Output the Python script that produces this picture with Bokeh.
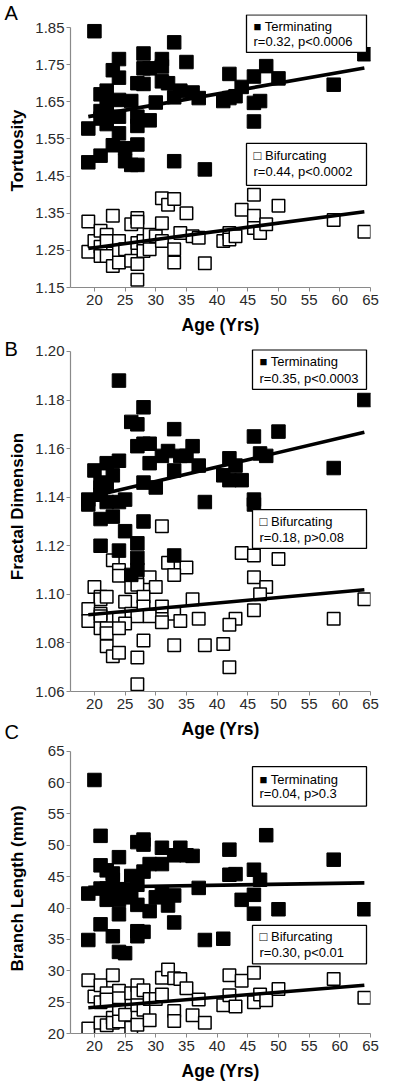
from bokeh.plotting import figure
from bokeh.layouts import column
from bokeh.models import Range1d, FixedTicker, PrintfTickFormatter, BoxAnnotation, Label
from bokeh.embed import file_html
from bokeh.resources import INLINE
import math

FONT = "Liberation Sans"

# ---------------- data ----------------
fit_age = [19, 64]

# Panel A: Tortuosity
A_term_age = [20, 19, 19, 21, 21, 22, 21, 21, 22, 22, 22, 23, 24, 24, 24, 24, 24, 23, 25, 25,
              26, 26, 27, 27, 27, 27, 27, 28, 28, 28, 29, 29, 30, 31, 31, 31, 32, 33, 33, 33,
              34, 35, 36, 37, 38, 41, 42, 42, 43, 44, 46, 46, 46, 47, 48, 50, 59, 64]
A_term_val = [1.84, 1.578, 1.487, 1.505, 1.67, 1.68, 1.625, 1.605, 1.645, 1.618, 1.59, 1.735,
              1.765, 1.715, 1.655, 1.61, 1.565, 1.533, 1.525, 1.49, 1.652, 1.48, 1.48, 1.61,
              1.585, 1.70, 1.535, 1.78, 1.74, 1.698, 1.74, 1.60, 1.648, 1.765, 1.745, 1.705,
              1.70, 1.81, 1.662, 1.49, 1.68, 1.757, 1.675, 1.66, 1.468, 1.652, 1.725, 1.66,
              1.665, 1.69, 1.718, 1.647, 1.597, 1.652, 1.746, 1.713, 1.696, 1.778]
A_bif_age = [19, 19, 20, 21, 21, 21, 22, 22, 22, 23, 23, 24, 24, 24, 25, 26, 26, 27, 27, 27,
             27, 27, 28, 28, 29, 29, 30, 31, 31, 31, 32, 33, 33, 33, 34, 35, 36, 37, 38, 41,
             42, 42, 43, 44, 46, 46, 46, 47, 48, 50, 59, 64]
A_bif_val = [1.328, 1.246, 1.275, 1.303, 1.26, 1.235, 1.292, 1.275, 1.235, 1.343, 1.208, 1.275,
             1.248, 1.217, 1.253, 1.32, 1.222, 1.337, 1.327, 1.27, 1.213, 1.171, 1.275, 1.248,
             1.292, 1.253, 1.288, 1.39, 1.323, 1.275, 1.373, 1.388, 1.253, 1.217, 1.297, 1.35,
             1.288, 1.284, 1.215, 1.275, 1.297, 1.279, 1.288, 1.359, 1.40, 1.343, 1.31, 1.297,
             1.32, 1.37, 1.332, 1.30]
A_term_fit = [1.61, 1.741]
A_bif_fit = [1.255, 1.354]

# Panel B: Fractal Dimension
B_term_age = [24, 64, 28, 26, 27, 33, 50, 46, 27, 28, 29, 36, 32, 31, 34, 35, 47, 48, 42, 20,
              22, 24, 29, 33, 37, 43, 59, 23, 41, 42, 44, 28, 21, 21, 22, 30, 21, 22, 19, 19,
              24, 25, 38, 46, 46, 21, 23, 28, 25, 21, 27, 24, 27, 33, 27, 26]
B_term_val = [1.188, 1.180, 1.177, 1.171, 1.170, 1.168, 1.167, 1.165, 1.161, 1.162, 1.162, 1.161,
              1.159, 1.157, 1.157, 1.157, 1.158, 1.157, 1.156, 1.151, 1.154, 1.155, 1.154, 1.151,
              1.153, 1.153, 1.152, 1.149, 1.149, 1.147, 1.147, 1.146, 1.146, 1.144, 1.145, 1.144,
              1.141, 1.138, 1.139, 1.137, 1.138, 1.139, 1.138, 1.139, 1.137, 1.131, 1.132, 1.130,
              1.126, 1.120, 1.121, 1.118, 1.115, 1.116, 1.110, 1.108]
B_bif_age = [31, 44, 46, 50, 23, 32, 35, 24, 24, 33, 46, 29, 20, 26, 27, 30, 48, 21, 21, 22,
             28, 36, 47, 64, 25, 19, 19, 21, 21, 26, 28, 31, 27, 29, 33, 46, 24, 25, 21, 22,
             22, 24, 31, 34, 37, 43, 42, 59, 28, 22, 23, 24, 33, 38, 41, 27, 42, 27]
B_bif_val = [1.128, 1.117, 1.116, 1.1145, 1.114, 1.113, 1.111, 1.110, 1.1077, 1.108, 1.107, 1.107,
             1.103, 1.103, 1.104, 1.103, 1.103, 1.099, 1.098, 1.099, 1.099, 1.098, 1.100, 1.098,
             1.097, 1.094, 1.089, 1.092, 1.091, 1.092, 1.095, 1.095, 1.091, 1.091, 1.092, 1.0935,
             1.090, 1.088, 1.086, 1.086, 1.084, 1.086, 1.0885, 1.089, 1.090, 1.090, 1.0875, 1.090,
             1.081, 1.0786, 1.0745, 1.076, 1.079, 1.079, 1.0796, 1.074, 1.070, 1.063]
B_term_fit = [1.140, 1.1667]
B_bif_fit = [1.0916, 1.1019]

# Panel C: Branch Length (mm)
C_term_age = [20, 21, 21, 22, 23, 23, 24, 26, 27, 27, 28, 28, 28, 29, 31, 31, 33, 34, 35, 36,
              37, 42, 42, 43, 46, 47, 48, 59, 19, 21, 22, 23, 24, 25, 22, 24, 26, 27, 30, 31,
              32, 33, 44, 46, 46, 50, 64, 29, 24, 21, 33, 27, 27, 28, 23, 19, 38, 41, 24, 25]
C_term_val = [60.4, 51.5, 46.8, 46.0, 45.5, 44.5, 48.1, 45.1, 43.7, 50.5, 50.9, 50.1, 45.8, 47.0,
              49.6, 47.0, 48.4, 49.6, 48.4, 48.3, 43.2, 49.3, 45.3, 45.4, 46.1, 44.5, 51.6, 47.7,
              42.3, 43.1, 43.1, 42.9, 43.0, 42.9, 41.3, 41.3, 41.7, 40.5, 41.7, 42.4, 40.4, 42.0,
              41.3, 42.1, 39.1, 39.8, 39.8, 39.5, 39.0, 37.4, 37.7, 36.3, 35.5, 36.2, 35.5, 34.9,
              34.9, 35.1, 33.0, 32.8]
C_bif_age = [19, 19, 20, 21, 21, 21, 22, 22, 22, 23, 23, 23, 24, 24, 24, 24, 25, 26, 26, 27,
             27, 27, 27, 28, 28, 29, 29, 30, 31, 31, 32, 33, 33, 33, 34, 35, 36, 37, 38, 41,
             42, 42, 43, 44, 46, 46, 47, 48, 50, 59, 64]
C_bif_val = [28.5, 20.8, 25.9, 27.7, 25.0, 21.7, 26.4, 25.4, 21.3, 29.3, 22.5, 21.7, 26.8, 25.6,
             23.8, 21.9, 23.0, 26.4, 20.9, 27.7, 26.4, 24.5, 21.4, 26.9, 23.8, 25.5, 22.1, 25.5,
             28.9, 26.2, 30.2, 28.8, 23.6, 22.0, 28.7, 27.2, 22.9, 25.4, 21.7, 24.5, 29.3, 26.1,
             24.3, 28.4, 29.7, 25.0, 26.2, 25.3, 27.1, 28.7, 25.7]
C_term_fit = [43.3, 44.0]
C_bif_fit = [24.1, 27.7]

x_ticks = [20, 25, 30, 35, 40, 45, 50, 55, 60, 65]
A_ticks = [1.15, 1.25, 1.35, 1.45, 1.55, 1.65, 1.75, 1.85]
B_ticks = [1.06, 1.08, 1.10, 1.12, 1.14, 1.16, 1.18, 1.20]
C_ticks = [20, 25, 30, 35, 40, 45, 50, 55, 60, 65]

panels = [
    dict(letter="A", ylabel="Tortuosity", term=(A_term_age, A_term_val), bif=(A_bif_age, A_bif_val),
         tfit=A_term_fit, bfit=A_bif_fit, yr=(1.15, 1.885), bounds=(1.15, 1.85), ticks=A_ticks, fmt="%.2f",
         tleg="r=0.32, p<0.0006", bleg="r=0.44, p<0.0002"),
    dict(letter="B", ylabel="Fractal Dimension", term=(B_term_age, B_term_val), bif=(B_bif_age, B_bif_val),
         tfit=B_term_fit, bfit=B_bif_fit, yr=(1.06, 1.2008), bounds=(1.06, 1.20), ticks=B_ticks, fmt="%.2f",
         tleg="r=0.35, p<0.0003", bleg="r=0.18, p>0.08"),
    dict(letter="C", ylabel="Branch Length (mm)", term=(C_term_age, C_term_val), bif=(C_bif_age, C_bif_val),
         tfit=C_term_fit, bfit=C_bif_fit, yr=(20, 65.1), bounds=(20, 65), ticks=C_ticks, fmt="%d",
         tleg="r=0.04, p>0.3", bleg="r=0.30, p<0.01"),
]

# ---------------- layout ----------------
W = 400
LEFT, RIGHT = 70, 30
FRAME_L, FRAME_R = LEFT, W - RIGHT
X_RANGE = (16.1, 65.0)


def px_to_age(px):
    return X_RANGE[0] + (px - FRAME_L) / (FRAME_R - FRAME_L) * (X_RANGE[1] - X_RANGE[0])


geom = [
    dict(h=337, top=14, bottom=50),
    dict(h=406, top=12, bottom=52),
    dict(h=340, top=7, bottom=50),
]
BOX_R = FRAME_R - 4
place = [
    dict(t_box=(BOX_R - 120, BOX_R, 1.884, 1.783), t_y=(1.853, 1.812),
         b_box=(BOX_R - 120, BOX_R, 1.538, 1.425), b_y=(1.505, 1.462)),
    dict(t_box=(BOX_R - 114, BOX_R, 1.2007, 1.1844), t_y=(1.1959, 1.1889),
         b_box=(BOX_R - 114, BOX_R, 1.1349, 1.1189), b_y=(1.1300, 1.1234)),
    dict(t_box=(BOX_R - 114, BOX_R, 62.53, 56.25), t_y=(60.49, 58.29),
         b_box=(BOX_R - 114, BOX_R, 37.23, 31.10), b_y=(35.50, 32.83)),
]
TEXT_PAD = 7

# texts outside the plotting area (canvas pixels of each figure, from its top-left corner)
ytitle_pos = [(17, 150), (17, 169), (17, 145)]
letter_pos = {0: [("A", 4, 12)], 1: [("B", 4, 11), ("C", 4, 394)]}

try:
    Label(x=0, y=0, x_units="canvas", y_units="canvas")
    USE_CANVAS = True
except Exception:
    USE_CANVAS = False


def outside_label(p, side, cx, cy, frame_side_x, **kw):
    """Label drawn in a side panel (so it is not clipped to the frame)."""
    if USE_CANVAS:
        lab = Label(x=cx, y=cy, x_units="canvas", y_units="canvas", **kw)
    else:
        frame_bottom = p.height - p.min_border_bottom
        lab = Label(x=cx - frame_side_x, y=frame_bottom - cy, x_units="screen",
                    y_units="screen", **kw)
    p.add_layout(lab, side)
    return lab


figs = []
for i, (pc, g, lp) in enumerate(zip(panels, geom, place)):
    p = figure(width=W, height=g["h"], output_backend="svg", toolbar_location=None,
               x_range=Range1d(*X_RANGE), y_range=Range1d(*pc["yr"]),
               min_border_left=LEFT, min_border_right=RIGHT,
               min_border_top=g["top"], min_border_bottom=g["bottom"])
    p.outline_line_color = None
    p.xgrid.visible = False
    p.ygrid.visible = False
    p.background_fill_color = "white"
    p.border_fill_color = "white"

    for ax in (p.xaxis[0], p.yaxis[0]):
        ax.axis_line_color = "#8a8a8a"
        ax.axis_line_width = 1.2
        ax.major_tick_line_color = "#8a8a8a"
        ax.major_tick_in = 0
        ax.major_tick_out = 4
        ax.minor_tick_line_color = None
        ax.major_label_text_font = FONT
        ax.major_label_text_font_size = "15px"
        ax.major_label_text_color = "#2a2a2a"
        ax.major_label_standoff = 2
    p.xaxis[0].major_label_standoff = 3
    p.xaxis[0].ticker = FixedTicker(ticks=x_ticks)
    p.xaxis[0].axis_label = "Age (Yrs)"
    p.xaxis[0].axis_label_text_font = FONT
    p.xaxis[0].axis_label_text_font_style = "bold"
    p.xaxis[0].axis_label_text_font_size = "17.5px"
    p.xaxis[0].axis_label_text_color = "black"
    p.xaxis[0].axis_label_standoff = 7
    p.yaxis[0].ticker = FixedTicker(ticks=pc["ticks"])
    p.yaxis[0].formatter = PrintfTickFormatter(format=pc["fmt"])
    p.yaxis[0].bounds = pc["bounds"]

    # data
    p.scatter(pc["bif"][0], pc["bif"][1], marker="square", size=12.5,
              fill_color="white", line_color="black", line_width=1.5)
    p.scatter(pc["term"][0], pc["term"][1], marker="square", size=13.5,
              fill_color="black", line_color="black")
    p.line(fit_age, pc["bfit"], line_width=3.6, color="black")
    p.line(fit_age, pc["tfit"], line_width=3.6, color="black")

    # legend boxes
    for key, sym, name, stat in (("t", "\u25A0", "Terminating", pc["tleg"]),
                                 ("b", "\u25A1", "Bifurcating", pc["bleg"])):
        l, r, t, b = lp[key + "_box"]
        p.add_layout(BoxAnnotation(left=px_to_age(l), right=px_to_age(r), top=t, bottom=b,
                                   fill_color="white", fill_alpha=1.0, line_color="black",
                                   line_width=1.3, line_alpha=1.0))
        y1, y2 = lp[key + "_y"]
        tx = px_to_age(l + TEXT_PAD)
        p.add_layout(Label(x=tx, y=y1, text=sym + " " + name, text_font=FONT,
                           text_font_size="13px", text_color="black", text_baseline="middle"))
        p.add_layout(Label(x=tx, y=y2, text=stat, text_font=FONT,
                           text_font_size="13px", text_color="black", text_baseline="middle"))

    # y-axis title: vertical bold text in the left side panel
    tx_, ty_ = ytitle_pos[i]
    outside_label(p, "left", tx_, ty_, 0, text=pc["ylabel"], angle=math.pi / 2,
                  text_align="center", text_baseline="middle", text_font=FONT,
                  text_font_style="bold", text_font_size="17px", text_color="black")
    # panel letters: right side panel, drawn at the far left
    for letter, lx, ly in letter_pos.get(i, []):
        outside_label(p, "right", lx, ly, FRAME_R, text=letter, text_font=FONT,
                      text_font_size="20px", text_color="black", text_baseline="middle")
    figs.append(p)

layout = column(*figs, spacing=0)
open("out.html", "w").write(file_html(layout, INLINE))
